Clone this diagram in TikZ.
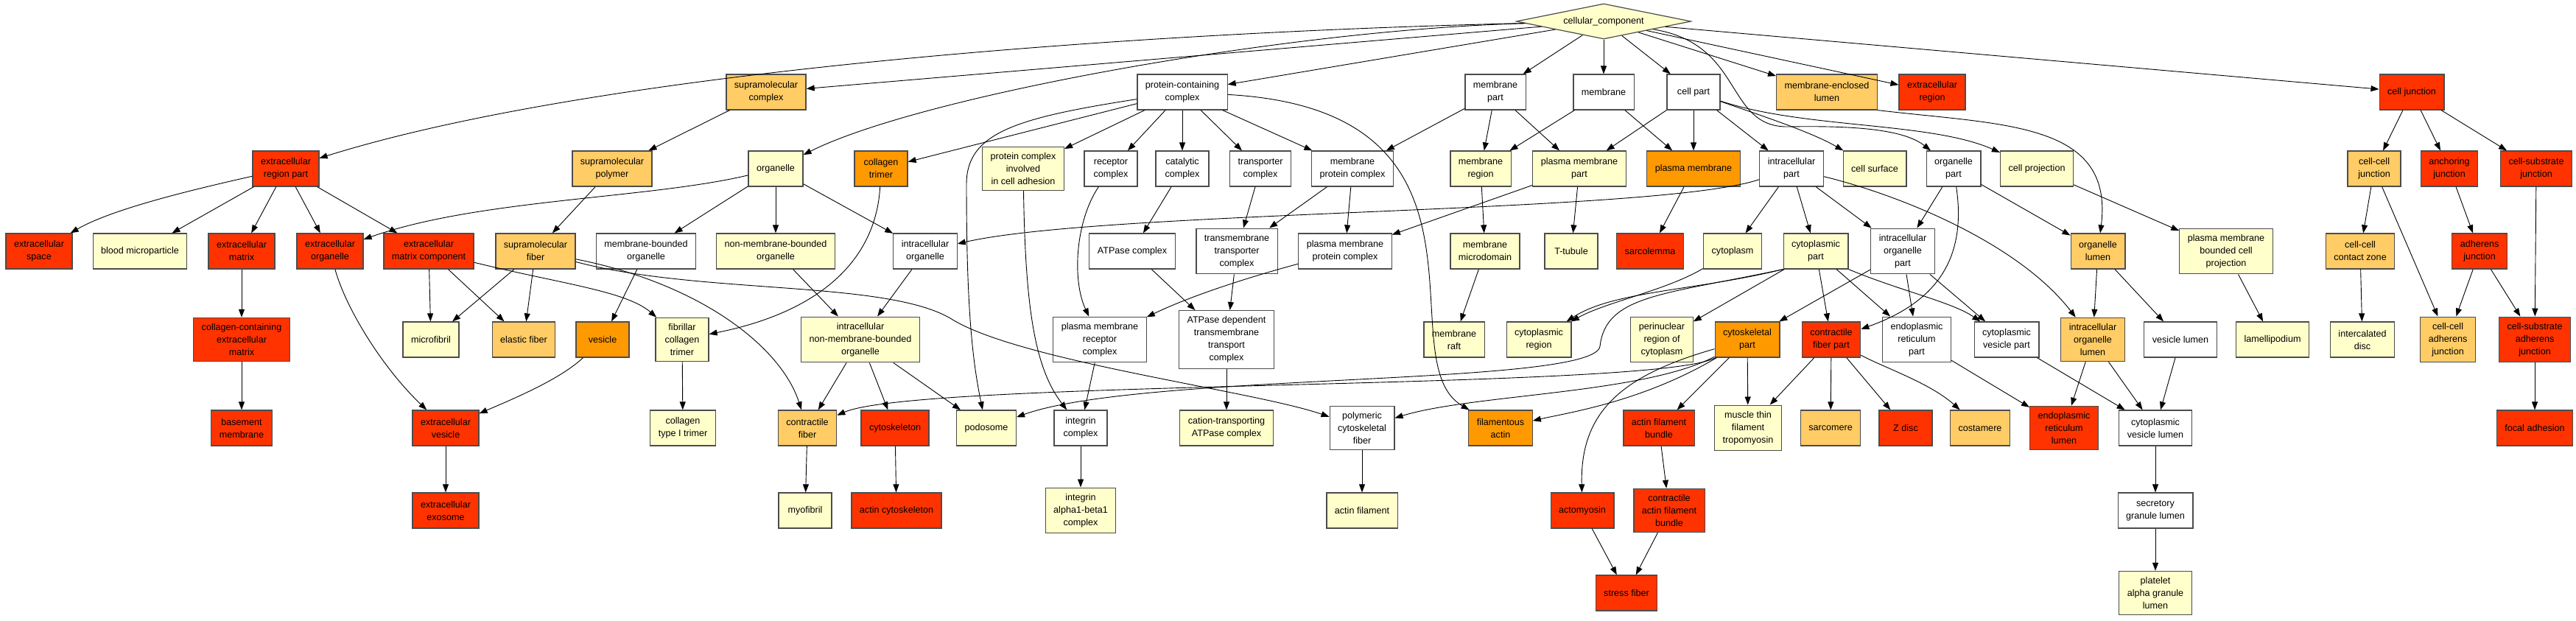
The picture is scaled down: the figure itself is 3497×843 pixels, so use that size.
\documentclass[tikz,border=0pt]{standalone}
\usepackage{fontspec}
\setmainfont{Liberation Sans}
\usetikzlibrary{shapes.geometric,arrows.meta}
\definecolor{gored}{HTML}{FF3300}
\definecolor{goorange}{HTML}{FF9900}
\definecolor{gogold}{HTML}{FFCC66}
\definecolor{gopale}{HTML}{FFFFCC}
\begin{document}
\begin{tikzpicture}[x=0.25pt,y=-0.25pt]
	\tikzset{term/.style = {shape=rectangle,draw=black!70,line width=0.3pt,align=center,
		font=\fontsize{3.15}{4.25}\selectfont,inner xsep=2.75pt,inner ysep=2pt,
		minimum width=18pt,minimum height=12pt}}
	\tikzset{tred/.style = {term,fill=gored}}
	\tikzset{torange/.style = {term,fill=goorange}}
	\tikzset{tgold/.style = {term,fill=gogold}}
	\tikzset{tpale/.style = {term,fill=gopale}}
	\tikzset{twhite/.style = {term,fill=white}}
	\tikzset{goarrow/.style = {draw,-{Triangle[length=2.75pt,width=2pt]},line width=0.225pt}}
	\path[use as bounding box,fill=white] (0,0) rectangle (3497,843);

	% root
	\node[diamond,draw=black!70,line width=0.3pt,fill=gopale,aspect=4.9,inner sep=0.25pt,
		minimum width=59.25pt,minimum height=12pt,font=\fontsize{3.15}{4.25}\selectfont] (cc) at (2177,29) {cellular\_component};

	% level 1
	\node[tgold] (smc) at (1040,125) {supramolecular\\complex};
	\node[twhite] (pcc) at (1605,125) {protein-containing\\complex};
	\node[twhite] (mpart) at (2030,125) {membrane\\part};
	\node[twhite] (mem) at (2177,125) {membrane};
	\node[twhite] (cpart) at (2299,125) {cell part};
	\node[tgold] (mel) at (2480,125) {membrane-enclosed\\lumen};
	\node[tred] (exr) at (2623,125) {extracellular\\region};
	\node[tred] (cj) at (3274,125) {cell junction};

	% level 2
	\node[tred] (erp) at (388,229) {extracellular\\region part};
	\node[tgold] (smp) at (831,229) {supramolecular\\polymer};
	\node[tpale] (org) at (1053,229) {organelle};
	\node[torange] (coltri) at (1196,229) {collagen\\trimer};
	\node[tpale] (pcad) at (1389,229) {protein complex\\involved\\in cell adhesion};
	\node[twhite] (recc) at (1508,229) {receptor\\complex};
	\node[twhite] (catc) at (1605,229) {catalytic\\complex};
	\node[twhite] (trc) at (1711,229) {transporter\\complex};
	\node[twhite] (mpc) at (1836,229) {membrane\\protein complex};
	\node[tpale] (mreg) at (2010,229) {membrane\\region};
	\node[tpale] (pmpart) at (2144,229) {plasma membrane\\part};
	\node[torange] (pm) at (2299,229) {plasma membrane};
	\node[twhite] (icp) at (2432,229) {intracellular\\part};
	\node[tpale] (csurf) at (2545,229) {cell surface};
	\node[twhite] (orgp) at (2652,229) {organelle\\part};
	\node[tpale] (cproj) at (2765,229) {cell projection};
	\node[tgold] (ccj) at (3223,229) {cell-cell\\junction};
	\node[tred] (anj) at (3325,229) {anchoring\\junction};
	\node[tred] (csj) at (3443,229) {cell-substrate\\junction};

	% level 3
	\node[tred] (exsp) at (53,341) {extracellular\\space};
	\node[tpale] (blood) at (190,341) {blood microparticle};
	\node[tred] (exm) at (328,341) {extracellular\\matrix};
	\node[tred] (exorg) at (448,341) {extracellular\\organelle};
	\node[tred] (exmc) at (582,341) {extracellular\\matrix component};
	\node[tgold] (smf) at (727,341) {supramolecular\\fiber};
	\node[twhite] (mbo) at (877,341) {membrane-bounded\\organelle};
	\node[tpale] (nmbo) at (1053,341) {non-membrane-bounded\\organelle};
	\node[twhite] (icorg) at (1256,341) {intracellular\\organelle};
	\node[twhite] (atpc) at (1537,341) {ATPase complex};
	\node[twhite] (tmtc) at (1679,341) {transmembrane\\transporter\\complex};
	\node[twhite] (pmpc) at (1826,341) {plasma membrane\\protein complex};
	\node[tpale] (mmd) at (2016,341) {membrane\\microdomain};
	\node[tpale] (ttub) at (2133,341) {T-tubule};
	\node[tred] (sarcl) at (2240,341) {sarcolemma};
	\node[tpale] (cyto) at (2352,341) {cytoplasm};
	\node[tpale] (cytp) at (2465,341) {cytoplasmic\\part};
	\node[twhite] (icop) at (2583,341) {intracellular\\organelle\\part};
	\node[tgold] (orgl) at (2848,341) {organelle\\lumen};
	\node[tpale] (pmbcp) at (3022,341) {plasma membrane\\bounded cell\\projection};
	\node[tgold] (cccz) at (3204,341) {cell-cell\\contact zone};
	\node[tred] (adj) at (3366,341) {adherens\\junction};

	% level 4
	\node[tred] (ccecm) at (328,461) {collagen-containing\\extracellular\\matrix};
	\node[tpale] (mfib) at (585,461) {microfibril};
	\node[tgold] (elf) at (711,461) {elastic fiber};
	\node[torange] (ves) at (818,461) {vesicle};
	\node[tpale] (fct) at (926,461) {fibrillar\\collagen\\trimer};
	\node[tpale] (inmbo) at (1168,461) {intracellular\\non-membrane-bounded\\organelle};
	\node[twhite] (pmrc) at (1493,461) {plasma membrane\\receptor\\complex};
	\node[twhite] (atpdt) at (1665,461) {ATPase dependent\\transmembrane\\transport\\complex};
	\node[tpale] (raft) at (1974,461) {membrane\\raft};
	\node[tpale] (cytreg) at (2089,461) {cytoplasmic\\region};
	\node[tpale] (perin) at (2256,461) {perinuclear\\region of\\cytoplasm};
	\node[torange] (cskp) at (2372,461) {cytoskeletal\\part};
	\node[tred] (cfp) at (2486,461) {contractile\\fiber part};
	\node[twhite] (erpart) at (2602,461) {endoplasmic\\reticulum\\part};
	\node[twhite] (cvp) at (2724,461) {cytoplasmic\\vesicle part};
	\node[tgold] (icol) at (2841,461) {intracellular\\organelle\\lumen};
	\node[twhite] (vesl) at (2960,461) {vesicle lumen};
	\node[tpale] (lamel) at (3085,461) {lamellipodium};
	\node[tpale] (icd) at (3207,461) {intercalated\\disc};
	\node[tgold] (ccaj) at (3323,461) {cell-cell\\adherens\\junction};
	\node[tred] (csaj) at (3441,461) {cell-substrate\\adherens\\junction};

	% level 5
	\node[tred] (bmem) at (328,581) {basement\\membrane};
	\node[tred] (exves) at (605,581) {extracellular\\vesicle};
	\node[tpale] (col1) at (927,581) {collagen\\type I trimer};
	\node[tgold] (cfib) at (1096,581) {contractile\\fiber};
	\node[tred] (csk) at (1215,581) {cytoskeleton};
	\node[tpale] (podo) at (1339,581) {podosome};
	\node[twhite] (intc) at (1467,581) {integrin\\complex};
	\node[tpale] (catpc) at (1665,581) {cation-transporting\\ATPase complex};
	\node[twhite] (pcf) at (1849,581) {polymeric\\cytoskeletal\\fiber};
	\node[torange] (factin) at (2037,581) {filamentous\\actin};
	\node[tred] (afb) at (2252,581) {actin filament\\bundle};
	\node[tpale] (mtft) at (2373,581) {muscle thin\\filament\\tropomyosin};
	\node[tgold] (sarcm) at (2485,581) {sarcomere};
	\node[tred] (zdisc) at (2587,581) {Z disc};
	\node[tgold] (costa) at (2688,581) {costamere};
	\node[tred] (erl) at (2802,581) {endoplasmic\\reticulum\\lumen};
	\node[twhite] (cvl) at (2926,581) {cytoplasmic\\vesicle lumen};
	\node[tred] (fadh) at (3441,581) {focal adhesion};

	% level 6
	\node[tred] (exo) at (605,693) {extracellular\\exosome};
	\node[tpale] (myof) at (1093,693) {myofibril};
	\node[tred] (acsk) at (1217,693) {actin cytoskeleton};
	\node[tpale] (ia1b1) at (1467,693) {integrin\\alpha1-beta1\\complex};
	\node[tpale] (afil) at (1849,693) {actin filament};
	\node[tred] (actm) at (2148,693) {actomyosin};
	\node[tred] (cafb) at (2266,693) {contractile\\actin filament\\bundle};
	\node[twhite] (sgl) at (2926,693) {secretory\\granule lumen};

	% level 7
	\node[tred] (sfib) at (2208,805) {stress fiber};
	\node[tpale] (pagl) at (2926,805) {platelet\\alpha granule\\lumen};

	% edges from the root
	\draw[goarrow] (cc) .. controls (1500,45) and (800,100) .. (erp);
	\path[goarrow] (cc) edge (smc);
	\draw[goarrow] (cc) .. controls (1750,40) and (1250,130) .. (org);
	\path[goarrow] (cc) edge (pcc);
	\path[goarrow] (cc) edge (mpart);
	\path[goarrow] (cc) edge (mem);
	\path[goarrow] (cc) edge (cpart);
	\path[goarrow] (cc) edge (mel);
	\path[goarrow] (cc) edge (exr);
	\path[goarrow] (cc) edge (cj);
	\draw[goarrow] (cc) .. controls (2370,60) and (2340,175) .. (2430,172) .. controls (2540,170) and (2590,180) .. (orgp);

	% extracellular
	\draw[goarrow] (erp) .. controls (250,260) and (150,285) .. (exsp);
	\path[goarrow] (erp) edge (blood);
	\path[goarrow] (erp) edge (exm);
	\path[goarrow] (erp) edge (exorg);
	\path[goarrow] (erp) edge (exmc);
	\path[goarrow] (exm) edge (ccecm);
	\path[goarrow] (ccecm) edge (bmem);
	\draw[goarrow] (exorg) .. controls (470,420) and (520,500) .. (exves);
	\path[goarrow] (exmc) edge (mfib);
	\path[goarrow] (exmc) edge (elf);
	\draw[goarrow] (exmc) .. controls (760,385) and (850,395) .. (fct);
	\path[goarrow] (exves) edge (exo);

	% supramolecular
	\path[goarrow] (smc) edge (smp);
	\path[goarrow] (smp) edge (smf);
	\path[goarrow] (smf) edge (mfib);
	\path[goarrow] (smf) edge (elf);
	\draw[goarrow] (smf) .. controls (950,385) and (1060,470) .. (cfib);
	\draw[goarrow] (smf) .. controls (950,400) and (1200,380) .. (1290,432) .. controls (1380,490) and (1700,530) .. (pcf);
	\draw[goarrow] (coltri) .. controls (1190,340) and (1130,420) .. (fct);
	\path[goarrow] (fct) edge (col1);

	% organelle
	\draw[goarrow] (org) .. controls (880,270) and (650,270) .. (exorg);
	\path[goarrow] (org) edge (mbo);
	\path[goarrow] (org) edge (nmbo);
	\path[goarrow] (org) edge (icorg);
	\path[goarrow] (mbo) edge (ves);
	\draw[goarrow] (ves) .. controls (760,515) and (700,540) .. (exves);
	\path[goarrow] (nmbo) edge (inmbo);
	\path[goarrow] (icorg) edge (inmbo);
	\path[goarrow] (inmbo) edge (cfib);
	\path[goarrow] (inmbo) edge (csk);
	\path[goarrow] (inmbo) edge (podo);
	\path[goarrow] (cfib) edge (myof);
	\path[goarrow] (csk) edge (acsk);

	% protein-containing complex
	\path[goarrow] (pcc) edge (coltri);
	\draw[goarrow] (pcc) .. controls (1380,160) and (1312,180) .. (1312,250) .. controls (1312,400) and (1318,480) .. (podo);
	\path[goarrow] (pcc) edge (pcad);
	\path[goarrow] (pcc) edge (recc);
	\path[goarrow] (pcc) edge (catc);
	\path[goarrow] (pcc) edge (trc);
	\path[goarrow] (pcc) edge (mpc);
	\draw[goarrow] (pcc) .. controls (2060,150) and (1880,490) .. (factin);
	\draw[goarrow] (pcad) .. controls (1392,420) and (1405,500) .. (intc);
	\draw[goarrow] (recc) .. controls (1460,300) and (1455,380) .. (pmrc);
	\path[goarrow] (catc) edge (atpc);
	\path[goarrow] (trc) edge (tmtc);
	\path[goarrow] (atpc) edge (atpdt);
	\path[goarrow] (tmtc) edge (atpdt);
	\path[goarrow] (atpdt) edge (catpc);
	\path[goarrow] (pmrc) edge (intc);
	\path[goarrow] (intc) edge (ia1b1);

	% membrane
	\path[goarrow] (mpart) edge (mpc);
	\path[goarrow] (mpart) edge (mreg);
	\path[goarrow] (mpart) edge (pmpart);
	\path[goarrow] (mem) edge (mreg);
	\path[goarrow] (mem) edge (pm);
	\path[goarrow] (mpc) edge (tmtc);
	\path[goarrow] (mpc) edge (pmpc);
	\draw[goarrow] (pmpc) .. controls (1700,375) and (1620,400) .. (pmrc);
	\path[goarrow] (mreg) edge (mmd);
	\path[goarrow] (mmd) edge (raft);
	\path[goarrow] (pmpart) edge (pmpc);
	\path[goarrow] (pmpart) edge (ttub);
	\path[goarrow] (pm) edge (sarcl);

	% cell part
	\path[goarrow] (cpart) edge (pmpart);
	\path[goarrow] (cpart) edge (pm);
	\path[goarrow] (cpart) edge (icp);
	\draw[goarrow] (cpart) .. controls (2400,160) and (2460,180) .. (csurf);
	\draw[goarrow] (cpart) .. controls (2450,175) and (2620,165) .. (cproj);
	\path[goarrow] (cproj) edge (pmbcp);
	\path[goarrow] (pmbcp) edge (lamel);

	% intracellular part
	\draw[goarrow] (icp) .. controls (2250,290) and (1500,285) .. (icorg);
	\path[goarrow] (icp) edge (cyto);
	\path[goarrow] (icp) edge (cytp);
	\path[goarrow] (icp) edge (icop);
	\draw[goarrow] (icp) .. controls (2580,265) and (2740,330) .. (icol);
	\path[goarrow] (orgp) edge (icop);
	\path[goarrow] (orgp) edge (orgl);
	\draw[goarrow] (orgp) .. controls (2670,350) and (2630,410) .. (cfp);
	\draw[goarrow] (mel.south east) .. controls (2720,170) and (2870,165) .. (orgl);

	% cytoplasm
	\draw[goarrow] (cyto) .. controls (2260,395) and (2180,410) .. (cytreg);
	\draw[goarrow] (cytp.south west) .. controls (2300,395) and (2190,395) .. (cytreg);
	\draw[goarrow] (cytp.south west) .. controls (2260,400) and (2180,400) .. (2172,470) .. controls (2165,525) and (1550,505) .. (podo);
	\path[goarrow] (cytp) edge (perin);
	\path[goarrow] (cytp) edge (cfp);
	\path[goarrow] (cytp) edge (erpart);
	\draw[goarrow] (cytp.south east) .. controls (2580,395) and (2650,410) .. (cvp);
	\path[goarrow] (icop) edge (cskp);
	\path[goarrow] (icop) edge (erpart);
	\path[goarrow] (icop) edge (cvp);

	% cytoskeletal part
	\draw[goarrow] (cskp) .. controls (2250,530) and (1250,515) .. (cfib);
	\draw[goarrow] (cskp) .. controls (2230,535) and (2000,535) .. (pcf);
	\draw[goarrow] (cskp) .. controls (2230,545) and (2130,560) .. (factin);
	\draw[goarrow] (cskp) .. controls (2200,510) and (2145,560) .. (actm);
	\path[goarrow] (cskp) edge (afb);
	\path[goarrow] (cskp) edge (mtft);
	\path[goarrow] (pcf) edge (afil);
	\path[goarrow] (afb) edge (cafb);
	\path[goarrow] (actm) edge (sfib);
	\path[goarrow] (cafb) edge (sfib);

	% contractile fiber part and lumens
	\path[goarrow] (cfp) edge (mtft);
	\path[goarrow] (cfp) edge (sarcm);
	\path[goarrow] (cfp) edge (zdisc);
	\draw[goarrow] (cfp) .. controls (2560,500) and (2620,520) .. (costa);
	\path[goarrow] (erpart) edge (erl);
	\path[goarrow] (cvp) edge (cvl);
	\path[goarrow] (icol) edge (erl);
	\path[goarrow] (icol) edge (cvl);
	\path[goarrow] (orgl) edge (icol);
	\path[goarrow] (orgl) edge (vesl);
	\path[goarrow] (vesl) edge (cvl);
	\path[goarrow] (cvl) edge (sgl);
	\path[goarrow] (sgl) edge (pagl);

	% cell junction
	\path[goarrow] (cj) edge (ccj);
	\path[goarrow] (cj) edge (anj);
	\path[goarrow] (cj) edge (csj);
	\path[goarrow] (ccj) edge (cccz);
	\path[goarrow] (ccj) edge (ccaj);
	\path[goarrow] (anj) edge (adj);
	\path[goarrow] (adj) edge (ccaj);
	\path[goarrow] (adj) edge (csaj);
	\path[goarrow] (csj) edge (csaj);
	\path[goarrow] (cccz) edge (icd);
	\path[goarrow] (csaj) edge (fadh);
\end{tikzpicture}
\end{document}
